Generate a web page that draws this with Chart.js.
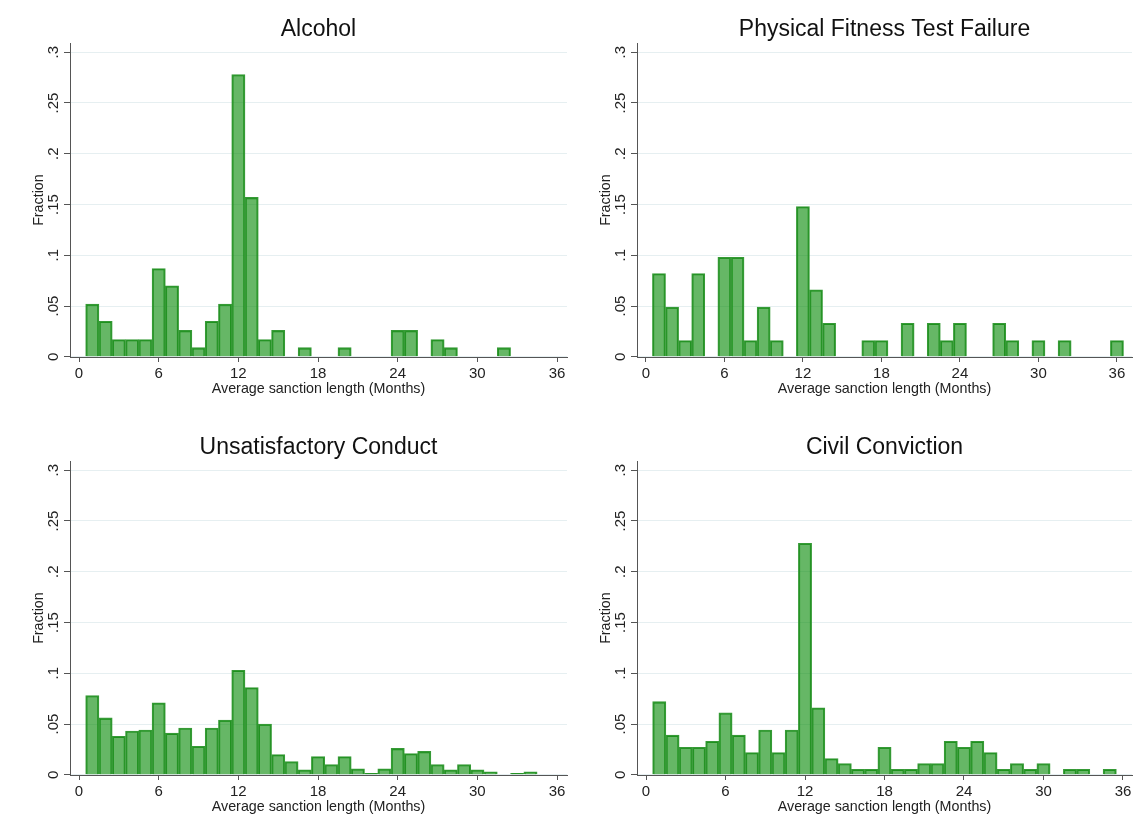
<!DOCTYPE html>
<html>
<head>
<meta charset="utf-8">
<script src="https://cdn.jsdelivr.net/npm/chart.js@4"></script>
<style>
    body { margin: 0; background: #fff; width: 1148px; height: 831px; position: relative; overflow: hidden; }
    canvas { position: absolute; }
</style>
</head>
<body>
<canvas id="alcoholChart" width="574" height="405" style="left:0;top:0"></canvas>
<canvas id="fitnessChart" width="574" height="405" style="left:567px;top:0"></canvas>
<canvas id="conductChart" width="574" height="405" style="left:0;top:418px"></canvas>
<canvas id="civilChart" width="574" height="405" style="left:567px;top:418px"></canvas>
<script>
// Bin centres (months), one bar per month
const months = [1, 2, 3, 4, 5, 6, 7, 8, 9, 10, 11, 12, 13, 14, 15, 16, 17, 18,
    19, 20, 21, 22, 23, 24, 25, 26, 27, 28, 29, 30, 31, 32, 33, 34, 35, 36];

// Fraction per bin
const alcohol = [0.052, 0.035, 0.017, 0.017, 0.017, 0.087, 0.070, 0.026, 0.009, 0.035, 0.052, 0.278,
    0.157, 0.017, 0.026, 0, 0.009, 0, 0, 0.009, 0, 0, 0, 0.026,
    0.026, 0, 0.017, 0.009, 0, 0, 0, 0.009, 0, 0, 0, 0];
const fitness = [0.082, 0.049, 0.016, 0.082, 0, 0.098, 0.098, 0.016, 0.049, 0.016, 0, 0.148,
    0.066, 0.033, 0, 0, 0.016, 0.016, 0, 0.033, 0, 0.033, 0.016, 0.033,
    0, 0, 0.033, 0.016, 0, 0.016, 0, 0.016, 0, 0, 0, 0.016];
const conduct = [0.078, 0.056, 0.038, 0.043, 0.044, 0.071, 0.041, 0.046, 0.028, 0.046, 0.054, 0.103,
    0.086, 0.050, 0.020, 0.013, 0.005, 0.018, 0.010, 0.018, 0.006, 0.0015, 0.006, 0.026,
    0.021, 0.023, 0.010, 0.005, 0.010, 0.005, 0.003, 0, 0.0015, 0.003, 0, 0];
const civil = [0.072, 0.039, 0.027, 0.027, 0.033, 0.061, 0.039, 0.022, 0.044, 0.022, 0.044, 0.228,
    0.066, 0.016, 0.011, 0.0055, 0.0055, 0.027, 0.0055, 0.0055, 0.011, 0.011, 0.033, 0.027,
    0.033, 0.022, 0.0055, 0.011, 0.0055, 0.011, 0, 0.0055, 0.0055, 0, 0.0055, 0];

const xTicks = [0, 6, 12, 18, 24, 30, 36];
const yTicks = [0, 0.05, 0.1, 0.15, 0.2, 0.25, 0.3];
const yTickLabels = ['0', '.05', '.1', '.15', '.2', '.25', '.3'];

const FONT = "'Liberation Sans', Arial, sans-serif";
const AXIS_COLOR = '#555';

// centre the title over the plot area instead of the whole canvas
const titleOverPlot = {
    id: 'titleOverPlot',
    afterLayout(chart) {
        if (chart.titleBlock) {
            chart.titleBlock.left = chart.chartArea.left;
            chart.titleBlock.right = chart.chartArea.right;
            chart.titleBlock.width = chart.chartArea.right - chart.chartArea.left;
        }
    }
};

function makeHistogram(id, title, values, xMax, padRight) {
    const ctx = document.getElementById(id).getContext('2d');
    return new Chart(ctx, {
        type: 'bar',
        data: {
            datasets: [{
                data: months.map((m, i) => ({ x: m, y: values[i] || null })),
                backgroundColor: 'rgba(0, 135, 0, 0.6)',
                borderColor: '#369a36',
                borderWidth: 1.4,
                barPercentage: 1,
                categoryPercentage: 1
            }]
        },
        options: {
            responsive: false,
            animation: false,
            devicePixelRatio: 1,
            layout: { padding: { left: 0, right: padRight, top: 0, bottom: 0 } },
            plugins: {
                legend: { display: false },
                tooltip: { enabled: false },
                title: {
                    display: true,
                    text: title,
                    color: '#111',
                    font: { family: FONT, size: 23, weight: 'normal' },
                    padding: { top: 15.5, bottom: 0 }
                }
            },
            scales: {
                x: {
                    type: 'linear',
                    min: -0.68,
                    max: xMax,
                    offset: false,
                    afterBuildTicks: scale => { scale.ticks = xTicks.map(v => ({ value: v })); },
                    afterFit: scale => { scale.height = 48; },
                    grid: { drawOnChartArea: false, drawTicks: true, tickLength: 5, tickColor: AXIS_COLOR, offset: false },
                    border: { display: true, color: AXIS_COLOR, width: 1 },
                    ticks: { color: '#222', font: { family: FONT, size: 15 }, padding: 3, maxRotation: 0 },
                    title: {
                        display: true,
                        text: 'Average sanction length (Months)',
                        color: '#222',
                        font: { family: FONT, size: 14.3 },
                        padding: { top: 0, bottom: 7.4 }
                    }
                },
                y: {
                    min: -0.0002,
                    max: 0.309,
                    afterBuildTicks: scale => { scale.ticks = yTicks.map(v => ({ value: v })); },
                    afterFit: scale => { scale.width = 70; },
                    grid: { color: '#e6eff1', lineWidth: 1, drawTicks: true, tickLength: 6, tickColor: AXIS_COLOR },
                    border: { display: true, color: AXIS_COLOR, width: 1 },
                    ticks: {
                        color: '#222',
                        font: { family: FONT, size: 15 },
                        padding: 0,
                        minRotation: 90,
                        maxRotation: 90,
                        crossAlign: 'center',
                        callback: (v, i) => yTickLabels[i]
                    },
                    title: {
                        display: true,
                        text: 'Fraction',
                        color: '#222',
                        font: { family: FONT, size: 14.3 },
                        padding: { top: 30.6, bottom: 0 }
                    }
                }
            }
        },
        plugins: [titleOverPlot]
    });
}

makeHistogram('alcoholChart', 'Alcohol', alcohol, 36.75, 7);
makeHistogram('fitnessChart', 'Physical Fitness Test Failure', fitness, 37.15, 9);
makeHistogram('conductChart', 'Unsatisfactory Conduct', conduct, 36.75, 7);
makeHistogram('civilChart', 'Civil Conviction', civil, 36.68, 9);
</script>
</body>
</html>
